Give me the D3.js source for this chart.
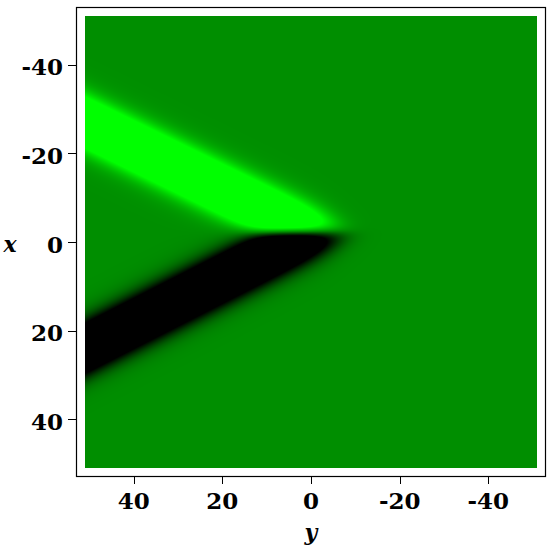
<!DOCTYPE html>
<html>
<head>
<meta charset="utf-8">
<script src="https://cdn.jsdelivr.net/npm/d3@7"></script>
<style>
  body { margin: 0; background: #fff; }
  svg { display: block; }
  .tick-label { font-family: 'DejaVu Serif', serif; font-weight: bold; font-size: 23px; }
  .axis-name { font-family: 'DejaVu Serif', serif; font-weight: bold; font-style: italic; font-size: 22px; }
</style>
</head>
<body>
<svg width="549" height="549"></svg>
<script>
// ////////////////////////////////////////////////////////////// density.js //

// axis ticks: x runs down the left side, y runs right-to-left along the bottom
const xTicks = [-40, -20, 0, 20, 40];
const yTicks = [40, 20, 0, -20, -40];

// frame and raster extents, in data units
const frameRange = [-53, 53];
const rasterRange = [-51, 51];

// the two ridges
const ridgeNames = ['bright', 'dark'];
const ridgeSign = [1, -1];
const ridgeX0 = [-2, -2];           // x of the ridge centre at y = 0
const ridgeSlope = [-0.49, 0.51];   // dx / dy along the ridge
const ridgeHalfWidth = [5.8, 5.7];  // half width of the saturated core
const ridgeTipY = [-5.5, -6.5];     // y where the ridge dies out
const splitX = -2.35;               // line where the two ridges meet

// colour stops: low, level, high
const colourStops = ['#000000', '#008e00', '#00ff00'];

const ridges = ridgeNames.map((name, i) => ({
  name,
  sign: ridgeSign[i],
  x0: ridgeX0[i],
  slope: ridgeSlope[i],
  half: ridgeHalfWidth[i],
  tipY: ridgeTipY[i],
}));

// 0. setup
// ----------------------------------
const svg = d3.select('svg');
svg.append('rect')
    .attr('width', 549)
    .attr('height', 549)
    .style('fill', '#fff');

const yScale = d3.scaleLinear().domain([frameRange[1], frameRange[0]]).range([76, 546]);
const xScale = d3.scaleLinear().domain(frameRange).range([7, 477]);
const colour = d3.scaleLinear()
    .domain([-1, 0, 1])
    .range(colourStops)
    .interpolate(d3.interpolateRgb)
    .clamp(true);

// 1. the field
// ----------------------------------
const sig = (t) => 1 / (1 + Math.exp(-t));
const edgeSoft = 1.5;
const tipSoft = 3.0;
const splitSoft = 0.8;

const field = (xv, yv) => {
  let v = 0;
  ridges.forEach((r) => {
    const d = Math.abs(xv - (r.x0 + r.slope * yv));
    const prof = 2 * sig((r.half - d) / edgeSoft);
    const fade = sig((yv - r.tipY) / tipSoft);
    const side = r.sign > 0 ?
      sig((splitX - xv) / splitSoft) :
      sig((xv - splitX) / splitSoft);
    v += r.sign * prof * fade * side;
  });
  return v;
};

// 2. paint the raster into a canvas, then hand it to svg
// ----------------------------------
const px0 = Math.round(yScale(rasterRange[1]));
const px1 = Math.round(yScale(rasterRange[0]));
const py0 = Math.round(xScale(rasterRange[0]));
const py1 = Math.round(xScale(rasterRange[1]));
const w = px1 - px0;
const h = py1 - py0;

const canvas = document.createElement('canvas');
canvas.width = w;
canvas.height = h;
const ctx = canvas.getContext('2d');
const img = ctx.createImageData(w, h);
for (let j = 0; j < h; j++) {
  const xv = xScale.invert(py0 + j + 0.5);
  for (let i = 0; i < w; i++) {
    const yv = yScale.invert(px0 + i + 0.5);
    const c = d3.rgb(colour(field(xv, yv)));
    const k = (j * w + i) * 4;
    img.data[k] = c.r;
    img.data[k + 1] = c.g;
    img.data[k + 2] = c.b;
    img.data[k + 3] = 255;
  }
}
ctx.putImageData(img, 0, 0);

svg.append('image')
    .attr('x', px0)
    .attr('y', py0)
    .attr('width', w)
    .attr('height', h)
    .attr('preserveAspectRatio', 'none')
    .attr('href', canvas.toDataURL());

// 3. frame, ticks, labels
// ----------------------------------
svg.append('rect')
    .attr('x', yScale(frameRange[1]) + 0.5)
    .attr('y', xScale(frameRange[0]) + 0.5)
    .attr('width', yScale(frameRange[0]) - yScale(frameRange[1]) - 1)
    .attr('height', xScale(frameRange[1]) - xScale(frameRange[0]) - 1)
    .style('fill', 'none')
    .style('stroke', '#000')
    .style('stroke-width', 1.2);

const left = svg.append('g');
left.selectAll('line')
    .data(xTicks)
    .enter()
    .append('line')
    .attr('x1', 68)
    .attr('x2', 76)
    .attr('y1', (d) => Math.round(xScale(d)) + 0.5)
    .attr('y2', (d) => Math.round(xScale(d)) + 0.5)
    .style('stroke', '#000');
left.selectAll('text')
    .data(xTicks)
    .enter()
    .append('text')
    .classed('tick-label', true)
    .attr('x', 63)
    .attr('y', (d) => xScale(d) + 10.5)
    .attr('text-anchor', 'end')
    .text((d) => d);

const bottom = svg.append('g');
bottom.selectAll('line')
    .data(yTicks)
    .enter()
    .append('line')
    .attr('x1', (d) => Math.round(yScale(d)) + 0.5)
    .attr('x2', (d) => Math.round(yScale(d)) + 0.5)
    .attr('y1', 477)
    .attr('y2', 484)
    .style('stroke', '#000');
bottom.selectAll('text')
    .data(yTicks)
    .enter()
    .append('text')
    .classed('tick-label', true)
    .attr('x', (d) => yScale(d))
    .attr('y', 508.5)
    .attr('text-anchor', 'middle')
    .text((d) => d);

svg.append('text')
    .classed('axis-name', true)
    .attr('x', 10)
    .attr('y', 252)
    .attr('text-anchor', 'middle')
    .text('x');

svg.append('text')
    .classed('axis-name', true)
    .attr('x', yScale(0))
    .attr('y', 540)
    .attr('text-anchor', 'middle')
    .text('y');
</script>
</body>
</html>
